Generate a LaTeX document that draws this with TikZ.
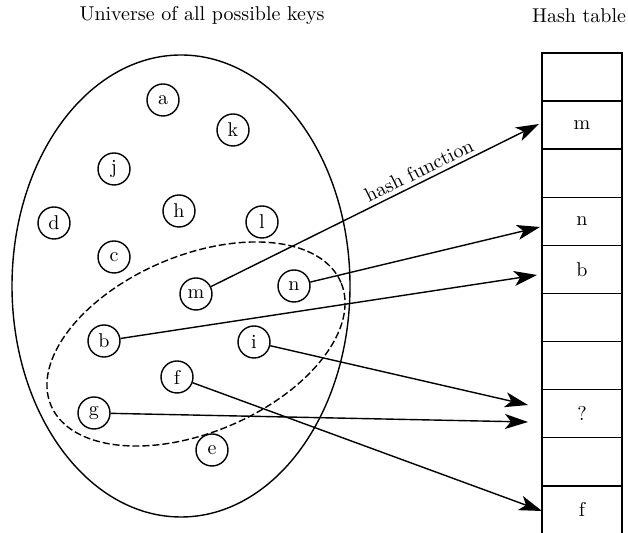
\documentclass[tikz,border=0pt]{standalone}
\usetikzlibrary{arrows.meta}
\begin{document}
\begin{tikzpicture}[x=0.5pt,y=-0.5pt,line width=0.7pt,
  key/.style={circle,draw,minimum size=16pt,inner sep=0pt},
  cell/.style={draw,minimum width=40pt,minimum height=24.05pt,inner sep=0pt,outer sep=0pt},
  hasharrow/.style={-{Stealth[length=11.5pt,width=7.5pt,inset=3pt]}},
  title/.style={inner sep=0pt}]
\useasboundingbox (0,0) rectangle (628,533);
% titles
\node[title] (u) at (202,16) {Universe of all possible keys};
\node[title] (ht) at (579,16) {Hash table};
% universe
\draw (181,286) ellipse [x radius=84.5pt, y radius=115.5pt];
\draw[dash pattern=on 3.5pt off 1.5pt, rotate around={23:(196,344)}] (196,344) ellipse [x radius=78.75pt, y radius=44.2pt];
% keys
\node[key] (a) at (163,100) {a};
\node[key] (k) at (233,130) {k};
\node[key] (j) at (114,169) {j};
\node[key] (h) at (179,211) {h};
\node[key] (l) at (262,222) {l};
\node[key] (d) at (54,223) {d};
\node[key] (c) at (114,257) {c};
\node[key] (m) at (196,294) {m};
\node[key] (n) at (294,286) {n};
\node[key] (b) at (104,341) {b};
\node[key] (i) at (254,342) {i};
\node[key] (f) at (177,377) {f};
\node[key] (g) at (94,413) {g};
\node[key] (e) at (212,450) {e};
% table
\foreach \r/\t in {1/,2/m,3/,4/n,5/b,6/,7/,8/?,9/,10/f}
  \node[cell] (r\r) at (582,{77.05+48.1*(\r-1)}) {\t};
% arrow ends
\coordinate (tm) at (539,124);
\coordinate (tn) at (540,227);
\coordinate (tb) at (537,275);
\coordinate (ti) at (528,405);
\coordinate (tg) at (528,422);
\coordinate (tf) at (542,511);
% arrows
\draw[hasharrow] (m) -- node[pos=0.65,above,sloped,inner sep=2pt] {hash function} (tm);
\draw[hasharrow] (n) -- (tn);
\draw[hasharrow] (b) -- (tb);
\draw[hasharrow] (i) -- (ti);
\draw[hasharrow] (g) -- (tg);
\draw[hasharrow] (f) -- (tf);
\end{tikzpicture}
\end{document}
